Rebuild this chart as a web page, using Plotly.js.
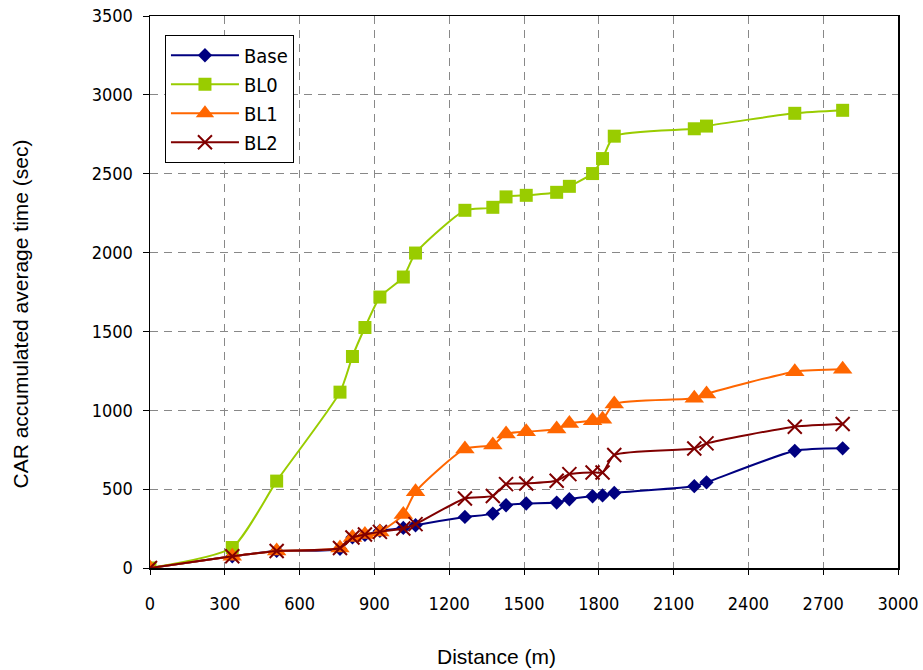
<!DOCTYPE html>
<html>
<head>
<meta charset="utf-8">
<script src="https://cdn.plot.ly/plotly-3.0.1.min.js"></script>
<style>html,body{margin:0;padding:0;background:#fff}#chart{width:923px;height:670px}</style>
</head>
<body>
<div id="chart"></div>
<script>
var distance = [0, 330, 508, 762, 812, 862, 922, 1016, 1065, 1263, 1375, 1428, 1509, 1631, 1682, 1775, 1815, 1862, 2183, 2232, 2586, 2778];
var base = [0, 74, 108, 122, 195, 210, 236, 254, 271, 324, 345, 398, 409, 415, 436, 455, 460, 476, 519, 543, 743, 759];
var bl0 = [0, 130, 551, 1115, 1341, 1525, 1718, 1845, 1997, 2268, 2287, 2353, 2363, 2382, 2420, 2501, 2596, 2738, 2785, 2802, 2883, 2902];
var bl1 = [0, 74, 108, 127, 193, 212, 229, 339, 483, 755, 780, 850, 864, 881, 917, 934, 943, 1040, 1076, 1104, 1245, 1260];
var bl2 = [0, 74, 108, 127, 193, 212, 229, 250, 278, 441, 457, 532, 536, 553, 595, 606, 606, 716, 758, 790, 896, 913];
var seriesNames = ["Base", "BL0", "BL1", "BL2"];
var xTicks = [0, 300, 600, 900, 1200, 1500, 1800, 2100, 2400, 2700, 3000];
var yTicks = [0, 500, 1000, 1500, 2000, 2500, 3000, 3500];
var xTitle = "Distance (m)";
var yTitle = "CAR accumulated average time (sec)";

var tickFont = {family: "DejaVu Sans Condensed, DejaVu Sans, sans-serif", size: 18, color: "#000"};
var titleFont = {family: "Liberation Sans, Arial, sans-serif", size: 21, color: "#000"};

function tr(name, y, color, symbol, size, extra) {
  var t = {
    x: distance, y: y, name: name, type: "scatter", mode: "lines+markers",
    line: {color: color, width: 2, shape: "spline", smoothing: 0.6},
    marker: {symbol: symbol, size: size, color: color}
  };
  if (extra) t.marker.line = extra;
  return t;
}

var data = [
  tr(seriesNames[0], base, "#000080", "diamond", 11),
  tr(seriesNames[1], bl0, "#99CC00", "square", 13),
  tr(seriesNames[2], bl1, "#FF6600", "triangle-up", 17),
  tr(seriesNames[3], bl2, "#800000", "x-thin-open", 14, {color: "#800000", width: 2})
];

var layout = {
  width: 923, height: 670,
  margin: {l: 150, r: 25, t: 16, b: 102},
  paper_bgcolor: "#fff", plot_bgcolor: "#fff",
  showlegend: true,
  legend: {
    x: 0.02, y: 0.966, xanchor: "left", yanchor: "top",
    bgcolor: "#fff", bordercolor: "#000", borderwidth: 1,
    font: {family: "DejaVu Sans Condensed, DejaVu Sans, sans-serif", size: 20, color: "#000"},
    tracegroupgap: 0, itemwidth: 68
  },
  xaxis: {
    range: [0, 3000], tickvals: xTicks, ticktext: xTicks.map(String),
    showgrid: true, gridcolor: "#888", griddash: "8px,6px", gridwidth: 1,
    zeroline: false, showline: true, linecolor: "#000", linewidth: 1.5, mirror: true,
    ticks: "outside", ticklen: 5, tickcolor: "#000", ticklabelstandoff: 14,
    tickfont: tickFont
  },
  yaxis: {
    range: [0, 3500], tickvals: yTicks, ticktext: yTicks.map(String),
    showgrid: true, gridcolor: "#888", griddash: "8px,6px", gridwidth: 1,
    zeroline: false, showline: true, linecolor: "#000", linewidth: 1.5, mirror: true,
    ticks: "outside", ticklen: 6, tickcolor: "#000", ticklabelstandoff: 6,
    tickfont: tickFont
  },
  annotations: [
    {text: xTitle, xref: "paper", yref: "paper", x: 0.4626, y: -0.161,
     xanchor: "center", yanchor: "middle", showarrow: false, font: titleFont},
    {text: yTitle, xref: "paper", yref: "paper", x: -0.1725, y: 0.461, textangle: -90,
     xanchor: "center", yanchor: "middle", showarrow: false, font: titleFont}
  ]
};

Plotly.newPlot("chart", data, layout, {displayModeBar: false, staticPlot: true});
</script>
</body>
</html>
